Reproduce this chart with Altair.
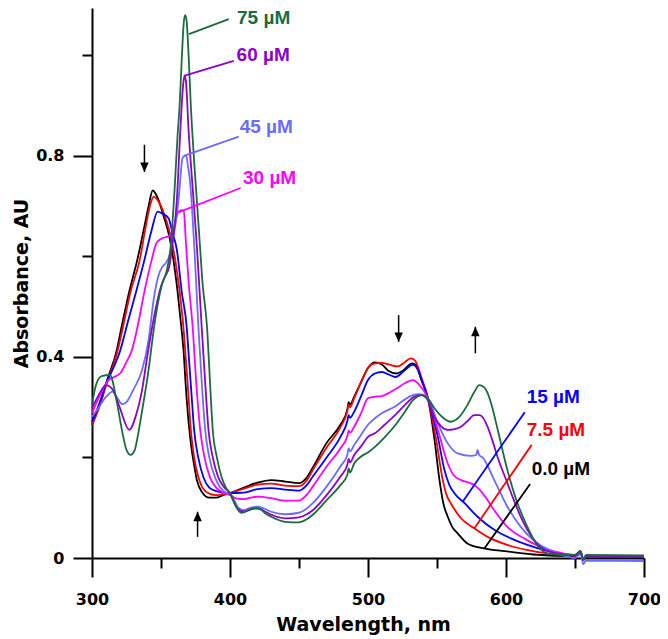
import altair as alt
import pandas as pd

# ---------------- data ----------------
series_names = ["0.0 µM", "7.5 µM", "15 µM", "30 µM", "45 µM", "60 µM", "75 µM"]
series_colors = ["#000000", "#FF0000", "#0000FF", "#FF00FF", "#6B6BFF", "#8B00CC", "#1B6B3F"]

wl_0 = [300, 305, 311, 318, 321, 327, 333, 338, 341, 344, 347, 352, 356, 359, 362, 364.7, 366.3, 368, 370, 372, 374, 376, 380, 385, 390, 395, 400,
        410, 420, 430, 440, 450, 455, 460, 470, 480, 485, 486, 487, 490, 495, 500, 505, 510, 515, 520.5, 525, 532, 535, 538.5, 543.4,
        548.2, 551.8, 554.5, 557.8, 561, 565, 572, 584, 601, 620, 650, 654, 656, 658, 700]
ab_0 = [0.265, 0.30, 0.354, 0.414, 0.454, 0.53, 0.595, 0.66, 0.70, 0.731, 0.72, 0.679, 0.64, 0.593, 0.53, 0.46, 0.414, 0.34, 0.27, 0.22, 0.185, 0.155, 0.13, 0.12, 0.12, 0.125, 0.129,
        0.14, 0.15, 0.155, 0.152, 0.149, 0.158, 0.18, 0.229, 0.265, 0.295, 0.31, 0.305, 0.321, 0.35, 0.378, 0.389, 0.385, 0.372, 0.367, 0.372, 0.387, 0.383, 0.355, 0.318,
        0.235, 0.155, 0.11, 0.082, 0.062, 0.049, 0.029, 0.019, 0.013, 0.007, 0.004, 0.01, -0.003, 0.003, 0.003]

wl_7 = [300, 305, 311, 318.7, 322, 328, 334.6, 339, 342, 344.7, 348, 354, 357, 360.3, 363.5, 366.4, 367.5, 369.5, 371.6, 374, 377.2, 380, 385, 390, 395, 400,
        410, 420, 430, 440, 450, 455, 460, 470, 480, 485, 486, 487, 490, 495, 500, 505, 510, 515, 521.7, 526, 531, 534, 538.5, 543.4,
        549.4, 554.2, 557, 560, 567.4, 577, 586.7, 601, 615, 630, 650, 654, 656, 658, 700]
ab_7 = [0.265, 0.298, 0.35, 0.414, 0.454, 0.53, 0.593, 0.66, 0.70, 0.719, 0.71, 0.67, 0.64, 0.593, 0.53, 0.454, 0.414, 0.34, 0.255, 0.2, 0.16, 0.14, 0.128, 0.125, 0.127, 0.129,
        0.138, 0.146, 0.148, 0.144, 0.143, 0.152, 0.175, 0.22, 0.26, 0.292, 0.305, 0.3, 0.318, 0.35, 0.378, 0.387, 0.388, 0.385, 0.381, 0.388, 0.397, 0.393, 0.361, 0.318,
        0.235, 0.155, 0.125, 0.109, 0.079, 0.059, 0.042, 0.026, 0.016, 0.009, 0.005, 0.012, -0.002, 0.004, 0.003]

wl_15 = [300, 305, 311, 315, 320.6, 326, 332, 338, 343, 347.6, 351, 355.5, 358, 361.5, 365, 368.8, 369.8, 372, 374, 377, 380.8, 385, 390, 395, 400,
         410, 420, 430, 440, 450, 455, 460, 470, 480, 485, 486, 487, 490, 495, 500, 505, 510, 515, 520, 526, 532.5, 536, 540, 543.4,
         550.6, 555.4, 559, 562.6, 570, 579.4, 591.5, 603.5, 615.5, 630, 650, 654, 656, 658, 700]
ab_15 = [0.27, 0.305, 0.352, 0.375, 0.414, 0.47, 0.53, 0.593, 0.65, 0.689, 0.685, 0.676, 0.65, 0.613, 0.53, 0.454, 0.414, 0.33, 0.255, 0.2, 0.16, 0.14, 0.133, 0.13, 0.129,
         0.13, 0.137, 0.139, 0.136, 0.134, 0.143, 0.162, 0.2, 0.241, 0.272, 0.284, 0.279, 0.291, 0.322, 0.354, 0.367, 0.37, 0.365, 0.36, 0.372, 0.384, 0.375, 0.345, 0.318,
         0.241, 0.175, 0.145, 0.129, 0.109, 0.082, 0.056, 0.039, 0.026, 0.014, 0.006, 0.013, -0.003, 0.003, 0.002]

wl_30 = [300, 306, 312, 316, 320.6, 325, 329, 333, 338, 343, 347, 351, 355.5, 359, 362.7, 365, 366.5, 368, 370, 373.1, 375.5, 378.4, 381.5, 385.6, 390, 395, 398, 400,
         405, 410, 415, 420, 430, 440, 450, 455, 460, 470, 480, 485, 486, 487, 490, 495, 500, 505, 510, 515, 520, 527, 532.5, 537, 543.4,
         550.6, 557.8, 562, 567.4, 572, 577, 583, 591.5, 601, 613, 625, 640, 650, 654, 656, 658, 700]
ab_30 = [0.288, 0.325, 0.354, 0.36, 0.368, 0.39, 0.414, 0.46, 0.53, 0.59, 0.628, 0.636, 0.64, 0.655, 0.689, 0.692, 0.69, 0.63, 0.55, 0.454, 0.35, 0.255, 0.2, 0.16, 0.14, 0.13, 0.127, 0.125,
         0.118, 0.117, 0.12, 0.122, 0.119, 0.114, 0.114, 0.124, 0.142, 0.182, 0.218, 0.242, 0.254, 0.249, 0.261, 0.288, 0.318, 0.321, 0.322, 0.328, 0.336, 0.348, 0.354, 0.345, 0.318,
         0.255, 0.188, 0.165, 0.155, 0.151, 0.145, 0.129, 0.095, 0.062, 0.039, 0.022, 0.01, 0.006, 0.013, -0.003, 0.004, 0.003]

wl_45 = [300, 305, 310, 315, 318, 322, 325, 330, 336.3, 341, 345, 348, 350.7, 353, 356, 360, 363, 364.5, 365.5, 367, 368.5, 369.5, 371, 372.4, 374.5, 377.2, 379.5, 382, 385, 389.2, 393, 397, 400,
         403, 406, 410, 415, 420, 425, 430, 440, 450, 455, 460, 470, 480, 485, 486, 487, 490, 495, 500, 505, 510, 520, 527, 532.5, 537, 543.4,
         550.6, 557.8, 565, 574.6, 578.5, 579.4, 580.5, 583, 591.5, 601, 610.7, 620, 635, 650, 654, 656, 658, 700]
ab_45 = [0.281, 0.30, 0.32, 0.331, 0.32, 0.306, 0.31, 0.335, 0.374, 0.434, 0.52, 0.56, 0.578, 0.585, 0.60, 0.655, 0.72, 0.77, 0.795, 0.80, 0.798, 0.78, 0.75, 0.70, 0.6, 0.454, 0.35, 0.255, 0.2, 0.16, 0.14, 0.13, 0.128,
         0.115, 0.1, 0.095, 0.1, 0.102, 0.098, 0.092, 0.087, 0.09, 0.097, 0.109, 0.142, 0.182, 0.205, 0.218, 0.212, 0.225, 0.245, 0.265, 0.278, 0.288, 0.302, 0.316, 0.324, 0.326, 0.318,
         0.268, 0.228, 0.208, 0.203, 0.205, 0.215, 0.205, 0.2, 0.155, 0.102, 0.062, 0.035, 0.012, 0.0, 0.008, -0.012, -0.005, -0.006]

wl_60 = [300, 305, 310, 315, 320, 327, 332, 336, 340, 345, 350, 353, 356, 358.5, 361.5, 364, 366, 367, 368, 370, 373.6, 376, 379.6, 382, 384.4, 387.5, 391.6, 396, 400,
         405, 410, 415, 420, 425, 430, 440, 450, 455, 460, 470, 480, 485, 486, 487, 490, 495, 500, 505, 512, 520, 527, 533.7, 538.5, 543.4,
         548, 553, 557.8, 562, 567.4, 572, 577, 581, 586.7, 590, 594, 601, 605, 610.7, 615.5, 622, 630, 650, 654, 656, 658, 700]
ab_60 = [0.298, 0.325, 0.344, 0.335, 0.3, 0.255, 0.285, 0.33, 0.40, 0.48, 0.54, 0.56, 0.58, 0.63, 0.712, 0.85, 0.94, 0.959, 0.95, 0.85, 0.712, 0.62, 0.454, 0.35, 0.255, 0.2, 0.16, 0.14, 0.129,
         0.1, 0.092, 0.097, 0.099, 0.093, 0.086, 0.079, 0.081, 0.086, 0.095, 0.125, 0.162, 0.185, 0.197, 0.19, 0.205, 0.222, 0.241, 0.248, 0.265, 0.285, 0.305, 0.321, 0.324, 0.314,
         0.281, 0.262, 0.255, 0.256, 0.261, 0.272, 0.284, 0.284, 0.261, 0.235, 0.2, 0.149, 0.12, 0.082, 0.056, 0.03, 0.014, 0.005, 0.012, -0.004, 0.003, 0.002]

wl_75 = [300, 303, 307, 313, 318, 322, 325, 328, 331, 333, 336, 341, 344.7, 348, 351, 354, 357, 360, 362, 363.5, 365, 366.5, 367.5, 368.5, 370, 371.6, 374, 376, 378, 380, 383.5, 385.5, 387.5, 390.5, 394, 397, 400,
         403, 406, 408, 412, 418, 422, 426, 430, 440, 450, 455, 460, 470, 480, 485, 486, 487, 490, 495, 500, 505, 512, 520, 527, 533, 539.8,
         544, 548.2, 554, 560, 566, 572, 577, 580.6, 584, 586.7, 590, 594, 601, 608.3, 615.5, 622.8, 632, 650, 654, 656, 658, 700]
ab_75 = [0.305, 0.345, 0.362, 0.364, 0.31, 0.25, 0.215, 0.205, 0.215, 0.24, 0.288, 0.374, 0.454, 0.51, 0.547, 0.57, 0.62, 0.74, 0.84, 0.9, 0.99, 1.065, 1.08, 1.07, 1.0, 0.9, 0.79, 0.71, 0.63, 0.55, 0.454, 0.35, 0.255, 0.2, 0.16, 0.14, 0.129,
         0.11, 0.095, 0.09, 0.093, 0.099, 0.097, 0.088, 0.082, 0.072, 0.071, 0.076, 0.086, 0.115, 0.145, 0.165, 0.178, 0.17, 0.188, 0.202, 0.21, 0.221, 0.24, 0.265, 0.292, 0.315, 0.324,
         0.315, 0.298, 0.28, 0.271, 0.28, 0.304, 0.33, 0.344, 0.34, 0.328, 0.3, 0.255, 0.175, 0.109, 0.062, 0.025, 0.008, 0.006, 0.014, -0.002, 0.006, 0.005]

# annotation labels (left edge / vertical centre) and leader lines
label_series = ["75 µM", "60 µM", "45 µM", "30 µM", "15 µM", "7.5 µM", "0.0 µM"]
label_wl = [405.1, 404.8, 407.0, 409.4, 615.0, 615.0, 618.6]
label_ab = [1.075, 1.001, 0.857, 0.755, 0.321, 0.255, 0.178]
lead_wl1 = [370.2, 366.6, 366.6, 363.0, 568.6, 577.1, 584.3]
lead_ab1 = [1.042, 0.959, 0.800, 0.688, 0.112, 0.059, 0.019]
lead_wl2 = [399.1, 402.7, 406.3, 407.7, 613.6, 618.6, 617.5]
lead_ab2 = [1.072, 0.989, 0.838, 0.736, 0.290, 0.225, 0.147]

# arrows (tail -> tip)
arrow_wl = [338.0, 376.5, 522.2, 577.8]
arrow_tail = [0.822, 0.042, 0.483, 0.407]
arrow_tip = [0.768, 0.092, 0.430, 0.460]
arrow_dir = ["down", "up", "down", "up"]

# ---------------- build tables ----------------
all_wl = [wl_0, wl_7, wl_15, wl_30, wl_45, wl_60, wl_75]
all_ab = [ab_0, ab_7, ab_15, ab_30, ab_45, ab_60, ab_75]
rows = []
for name, wls, abs_ in zip(series_names, all_wl, all_ab):
    for w, a in zip(wls, abs_):
        rows.append({"series": name, "wl": w, "ab": a})
spectra = pd.DataFrame(rows)

labels = pd.DataFrame({"series": label_series, "wl": label_wl, "ab": label_ab,
                       "wl1": lead_wl1, "ab1": lead_ab1, "wl2": lead_wl2, "ab2": lead_ab2})
arrows = pd.DataFrame({"wl": arrow_wl, "tail": arrow_tail, "tip": arrow_tip, "dir": arrow_dir})

FONT = "Liberation Sans"
AXFONT = "DejaVu Sans"
xscale = alt.Scale(domain=[300, 700], nice=False, zero=False)
yscale = alt.Scale(domain=[0, 1.094], nice=False, zero=False)
cscale = alt.Scale(domain=series_names, range=series_colors)

common_axis = dict(domainColor="black", tickColor="black", tickWidth=2, domainWidth=2,
                   grid=False, labelColor="black", labelFont=AXFONT, labelFontWeight="bold",
                   labelFontSize=16, titleFont=AXFONT, titleFontWeight="bold", titleFontSize=19,
                   titleColor="black", labelFlush=False, labelOverlap=False)

x_major = alt.Axis(values=[300, 400, 500, 600, 700], tickSize=19, labelPadding=27,
                   labelBaseline="alphabetic",
                   title="Wavelength, nm", titleBaseline="alphabetic", titleY=72, titleX=271,
                   orient="bottom", **common_axis)
y_major = alt.Axis(values=[0, 0.4, 0.8], tickSize=19, labelPadding=9,
                   labelExpr="datum.value == 0 ? '0' : format(datum.value, '.1f')",
                   title="Absorbance, AU", titleBaseline="alphabetic", titleX=-65,
                   orient="left", **common_axis)
x_minor = alt.Axis(values=[350, 450, 550, 650], tickSize=10, tickWidth=2, tickColor="black",
                   labels=False, domain=False, grid=False, title=None, orient="bottom")
y_minor = alt.Axis(values=[0.2, 0.6, 1.0], tickSize=10, tickWidth=2, tickColor="black",
                   labels=False, domain=False, grid=False, title=None, orient="left")

lines = alt.Chart(spectra).mark_line(strokeWidth=1.8, interpolate="monotone").encode(
    x=alt.X("wl:Q", scale=xscale, axis=x_major),
    y=alt.Y("ab:Q", scale=yscale, axis=y_major),
    color=alt.Color("series:N", scale=cscale, legend=None),
)

leaders = alt.Chart(labels).mark_rule(strokeWidth=1.8).encode(
    x=alt.X("wl1:Q", scale=xscale, axis=None),
    y=alt.Y("ab1:Q", scale=yscale, axis=None),
    x2="wl2:Q", y2="ab2:Q",
    color=alt.Color("series:N", scale=cscale, legend=None),
)

texts = alt.Chart(labels).mark_text(align="left", baseline="middle", font=FONT,
                                    fontWeight="bold", fontSize=19).encode(
    x=alt.X("wl:Q", scale=xscale, axis=None),
    y=alt.Y("ab:Q", scale=yscale, axis=None),
    text="series:N",
    color=alt.Color("series:N", scale=cscale, legend=None),
)

shafts = alt.Chart(arrows).mark_rule(strokeWidth=1.5, color="black").encode(
    x=alt.X("wl:Q", scale=xscale, axis=x_minor),
    y=alt.Y("tail:Q", scale=yscale, axis=y_minor),
    y2="tip:Q",
)

heads_down = alt.Chart(arrows).transform_filter("datum.dir == 'down'").mark_point(
    shape="M-0.9,-1L0.9,-1L0,1Z", size=90, filled=True, color="black", opacity=1, yOffset=-4.7
).encode(
    x=alt.X("wl:Q", scale=xscale, axis=None),
    y=alt.Y("tip:Q", scale=yscale, axis=None),
)
heads_up = alt.Chart(arrows).transform_filter("datum.dir == 'up'").mark_point(
    shape="M-0.9,1L0.9,1L0,-1Z", size=90, filled=True, color="black", opacity=1, yOffset=4.7
).encode(
    x=alt.X("wl:Q", scale=xscale, axis=None),
    y=alt.Y("tip:Q", scale=yscale, axis=None),
)

chart = alt.layer(lines, leaders, texts, shafts, heads_down, heads_up).resolve_axis(
    x="independent", y="independent"
).properties(
    width=552, height=550,
    autosize=alt.AutoSizeParams(type="none"),
    padding={"left": 84, "top": 0, "right": 16, "bottom": 80},
    background="white",
).configure_view(stroke=None)

chart.save("out.html", embed_options={"renderer": "svg", "actions": False})
